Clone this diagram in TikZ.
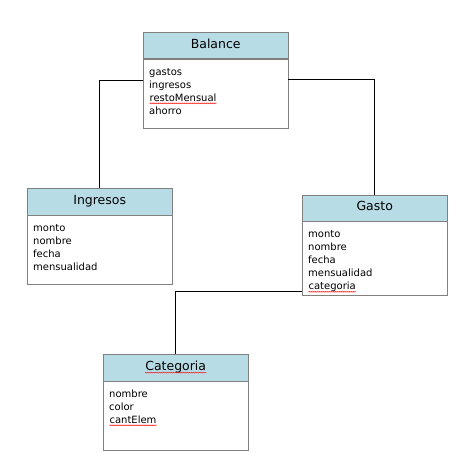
\documentclass[tikz,border=0pt]{standalone}
\usepackage{fontspec}
\setmainfont{DejaVu Sans}
\usepackage{xcolor}
\usepackage{tikz}
\usetikzlibrary{decorations.pathmorphing}
\definecolor{headblue}{RGB}{184,220,230}
\definecolor{boxgray}{RGB}{128,128,128}
\newcommand{\redwave}[1]{\tikz[baseline=(w.base), x=1pt, y=1pt]{\node[draw=none, fill=none, inner sep=0pt, minimum width=0pt, minimum height=0pt, text width={}, text height={}, text depth={}, align=none, anchor=base] (w) {#1}; \draw[red, line width=0.4pt, decorate, decoration={snake, amplitude=0.5pt, segment length=2pt}] ([yshift=-2.2pt]w.base west) -- ([yshift=-2.2pt]w.base east);}}

\begin{document}
\begin{tikzpicture}[x=1pt, y=-1pt,
        head/.style={draw=boxgray, fill=headblue, anchor=north west, minimum width=145pt, minimum height=26.5pt, text height=9pt, text depth=3pt, inner sep=0pt, font=\fontsize{12.5}{14}\selectfont},
        attrs/.style={draw=boxgray, fill=white, anchor=north west, text width=133pt, inner xsep=6pt, inner ysep=4pt, text height=12pt, text depth=#1, align=left, font=\fontsize{10}{13}\selectfont},
        attrs/.default=49pt,
        link/.style={draw=black, line width=0.8pt}]
        \useasboundingbox (0,0) rectangle (471,476);
        \node[head] (balance) at (143,32) {Balance};
        \node[attrs] (balanceAttrs) at (balance.south west) {gastos\\ingresos\\\redwave{restoMensual}\\ahorro};
        \node[head] (ingresos) at (27,188) {Ingresos};
        \node[attrs] (ingresosAttrs) at (ingresos.south west) {monto\\nombre\\fecha\\mensualidad};
        \node[head] (gasto) at (302,194.5) {Gasto};
        \node[attrs=54pt] (gastoAttrs) at (gasto.south west) {monto\\nombre\\fecha\\mensualidad\\\redwave{categoria}};
        \node[head] (categoria) at (103,354) {\redwave{Categoria}};
        \node[attrs] (categoriaAttrs) at (categoria.south west) {nombre\\color\\\redwave{cantElem}};
        \draw[link] ([yshift=-22pt]balanceAttrs.north west) -| (ingresos.north);
        \draw[link] ([yshift=-21pt]balanceAttrs.north east) -| (gasto.north);
        \draw[link] ([yshift=4pt]gastoAttrs.south west) -| (categoria.north);
      \end{tikzpicture}
\end{document}
